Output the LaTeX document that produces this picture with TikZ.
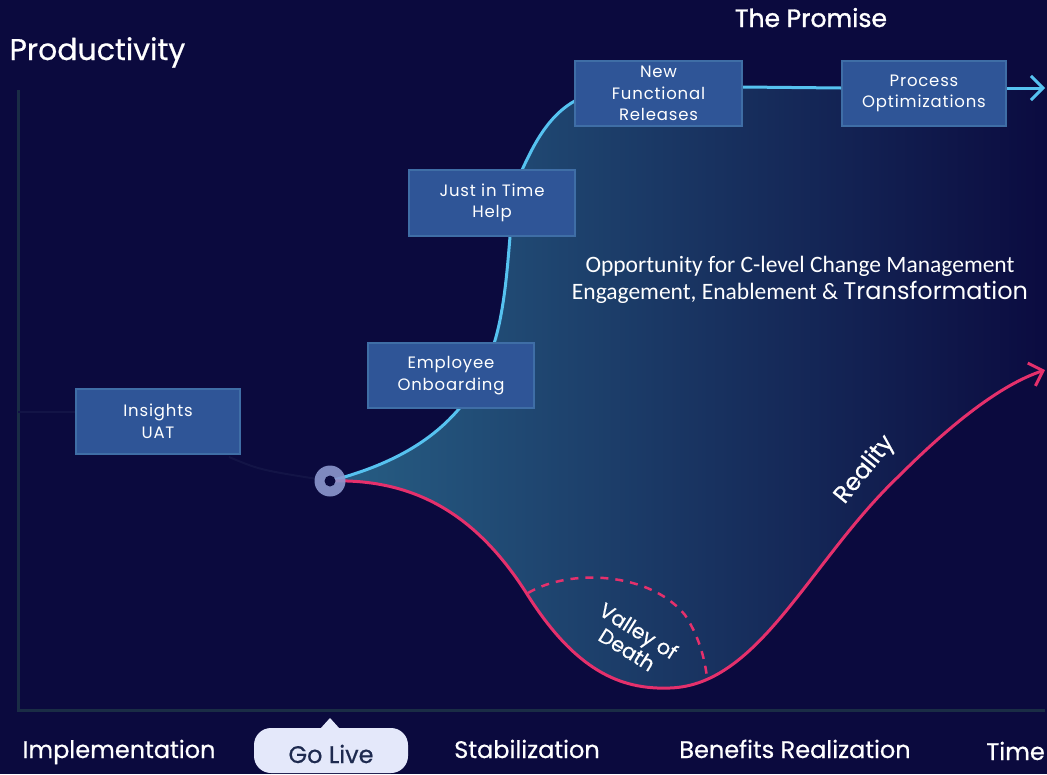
\documentclass[tikz,border=0pt]{standalone}
\usepackage{fontspec}
\setmainfont{Poppins}
\newfontfamily\boxfont{Poppins}[LetterSpace=5]
\newfontfamily\promisefont{Poppins}[FakeBold=1.3]
\newfontfamily\medfont{Poppins}[FakeBold=0.5]
\newfontfamily\calfont{Carlito}
\usetikzlibrary{arrows.meta}
\definecolor{bg}{HTML}{0B0A3E}
\definecolor{axisc}{HTML}{1A2D45}
\definecolor{boxfill}{HTML}{2F5597}
\definecolor{boxline}{HTML}{3F6EA6}
\definecolor{promise}{HTML}{56C2F0}
\definecolor{reality}{HTML}{E5306C}
\definecolor{shadeA}{HTML}{275E84}
\definecolor{shadeB}{HTML}{1A3A6A}
\definecolor{shadeC}{HTML}{0B0B40}
\definecolor{ring}{HTML}{8C97CE}
\definecolor{callout}{HTML}{E4E8FA}
\definecolor{callouttext}{HTML}{1E2A4F}
\definecolor{preline}{HTML}{131446}
\tikzset{
  stagebox/.style={draw=boxline, line width=2pt, fill=boxfill, text=white,
    font=\boxfont\fontsize{16.5}{21.5}\selectfont, align=center, inner sep=0pt},
  axisline/.style={draw=axisc, line width=3pt},
  promiseline/.style={draw=promise, line width=3pt},
  realityline/.style={draw=reality, line width=3pt},
  phase/.style={text=white, font=\medfont\fontsize{24}{28}\selectfont, anchor=base},
  curvelabel/.style={text=white, align=center},
}
\begin{document}
\begin{tikzpicture}[x=1pt,y=-1pt]
\fill[bg] (0,0) rectangle (1047,774);
\useasboundingbox (0,0) rectangle (1047,774);

% shaded opportunity region
\shade[left color=shadeA, middle color=shadeB, right color=shadeC]
  (330,481) .. controls (410,460) and (480,420) .. (500,320)
  .. controls (512,260) and (508,200) .. (522,170)
  .. controls (536,140) and (555,100) .. (600,92)
  .. controls (620,88) .. (660,87) -- (1047,88) -- (1047,370)
  .. controls (1000,385) and (950,425) .. (900,475)
  .. controls (810,560) and (760,685) .. (670,688)
  .. controls (620,690) and (575,670) .. (527,594)
  .. controls (480,520) and (420,478) .. (330,481) -- cycle;

% axes
\coordinate (origin) at (18,710);
\coordinate (ytop) at (18,90);
\coordinate (xend) at (1045,710);
\draw[axisline] (ytop) -- (origin) -- (xend);

% titles
\node[text=white, font=\medfont\fontsize{30}{34}\selectfont, anchor=base west] (prod) at (6,60) {Productivity};
\node[text=white, font=\promisefont\fontsize{25}{28}\selectfont, anchor=base] (promisetitle) at (811,27) {The Promise};

% boxes
\node[stagebox, minimum width=164pt, minimum height=65pt] (insights) at (158,421.5) {Insights\\UAT};
\node[stagebox, minimum width=166pt, minimum height=65pt] (onboard) at (451,375.5) {Employee\\Onboarding};
\node[stagebox, minimum width=166pt, minimum height=66pt] (jit) at (492,203) {Just in Time\\Help};
\node[stagebox, minimum width=167pt, minimum height=65pt] (nfr) at (658.5,93.5) {New\\Functional\\Releases};
\node[stagebox, minimum width=164pt, minimum height=65pt] (procopt) at (924,93.5) {Process\\Optimizations};

% faint pre-go-live line
\coordinate (gl) at (330,481);
\coordinate (axisy) at (18,412);
\draw[preline, line width=2pt] (axisy) -- (insights.west |- axisy);
\draw[preline, line width=2pt] (insights.south east) ++(-12,2) .. controls (260,470) .. (gl);

% curves
\draw[promiseline]
  (gl) .. controls (410,460) and (480,420) .. (500,320)
  .. controls (512,260) and (508,200) .. (522,170)
  .. controls (536,140) and (555,100) .. (600,92)
  .. controls (620,88) .. (660,87);
\coordinate (promiseend) at (1045,88);
\draw[promiseline] (nfr.east |- 0,87) -- (procopt.west |- 0,88);
\draw[promiseline, -{Straight Barb[length=12pt,width=24pt]}] (procopt.east |- 0,88) -- (promiseend);

\coordinate (realityend) at (1045,370);
\draw[realityline, -{Straight Barb[length=12pt,width=24pt]}]
  (gl) .. controls (420,478) and (480,520) .. (527,594)
  .. controls (575,670) and (620,690) .. (670,688)
  .. controls (760,685) and (810,560) .. (900,475)
  .. controls (950,425) and (1000,385) .. (realityend);

% valley arc
\coordinate (va) at (528,593);
\coordinate (vb) at (707,677);
\draw[reality, line width=2.5pt, dash pattern=on 8pt off 7pt]
  (va) .. controls (570,568) and (650,572) .. (685,615)
  .. controls (698,635) and (704,655) .. (vb);

% redraw boxes on top of curves
\node[stagebox, minimum width=166pt, minimum height=65pt] at (onboard) {Employee\\Onboarding};
\node[stagebox, minimum width=166pt, minimum height=66pt] at (jit) {Just in Time\\Help};
\node[stagebox, minimum width=167pt, minimum height=65pt] at (nfr) {New\\Functional\\Releases};

% go live marker
\fill[ring, opacity=0.9] (gl) circle (15.5pt);
\fill[bg] (gl) circle (5.5pt);

% labels
\node[curvelabel, rotate=51, font=\medfont\fontsize{24}{26}\selectfont] (reallab) at (865,470) {Reality};
\node[curvelabel, rotate=-32, font=\medfont\fontsize{20.5}{22}\selectfont] (valleylab) at (633,640) {Valley of\\Death};
\node[text=white, align=center, font=\calfont\fontsize{23.5}{27}\selectfont] (opp) at (800,280)
  {Opportunity for C-level Change Management\\Engagement, Enablement \& {\rmfamily\fontsize{24}{27}\selectfont Transformation}};

% go live callout
\fill[callout, rounded corners=17pt] (254,728) rectangle (408,773);
\fill[callout] (320,729) -- (330,718) -- (340,729) -- cycle;
\node[text=callouttext, font=\medfont\fontsize{24}{26}\selectfont, anchor=base] (golive) at (331,763) {Go Live};

% phase labels
\node[phase] (impl) at (119,758) {Implementation};
\node[phase] (stab) at (527,758) {Stabilization};
\node[phase] (benef) at (795,758) {Benefits Realization};
\node[phase, anchor=base east, inner sep=1pt] (time) at (1046,760) {Time};
\end{tikzpicture}
\end{document}
